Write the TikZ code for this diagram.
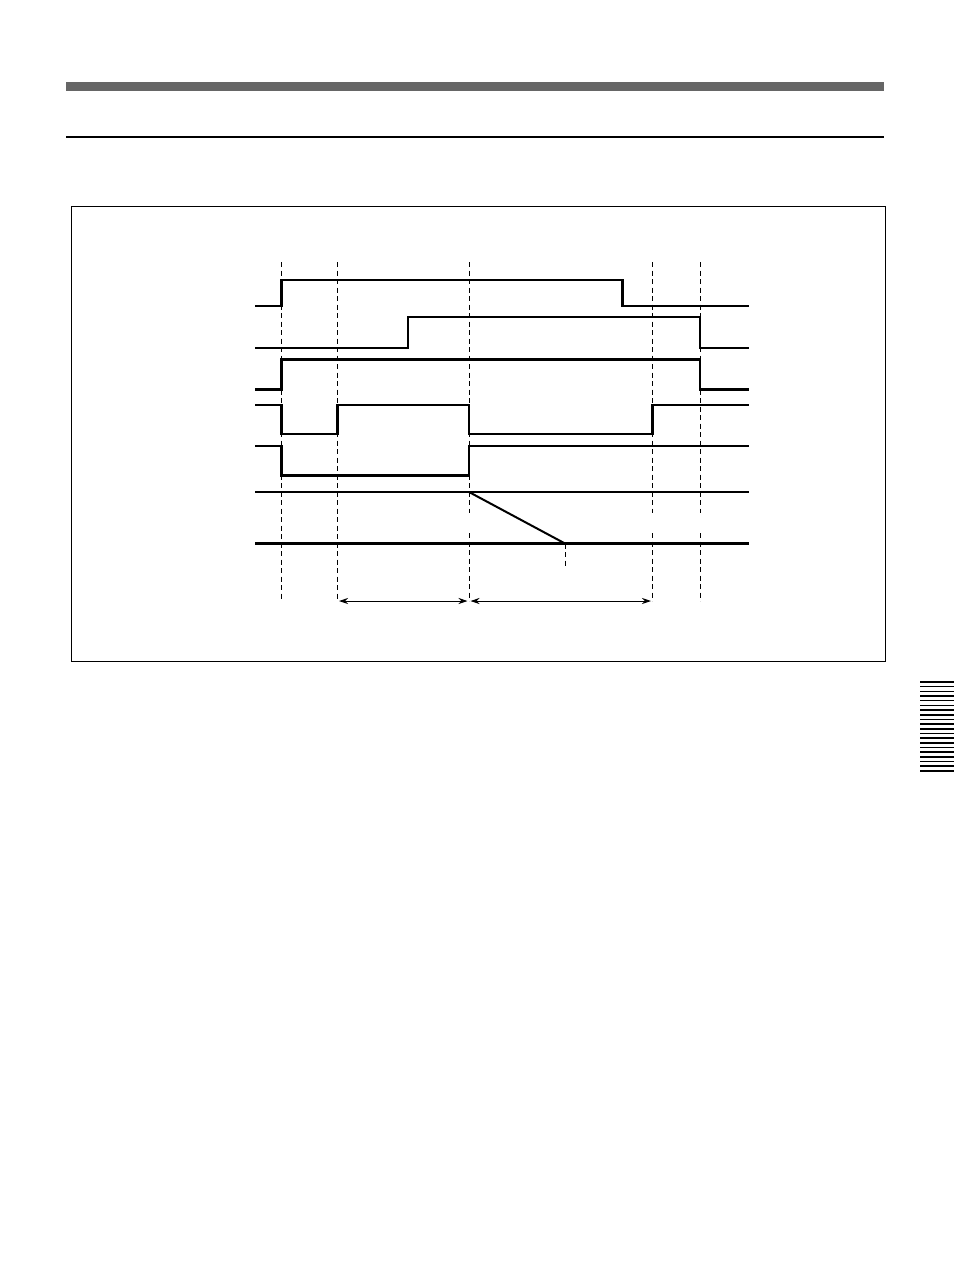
\documentclass[tikz,border=0pt]{standalone}
\usepackage{tikz}
\usetikzlibrary{positioning}
\usetikzlibrary{arrows.meta}
\tikzset{%
  every signal/.style={
    line width=2.2pt,
    line join=miter
  },
  time mark/.style={
    line width=0.9pt,
    dash pattern=on 5pt off 3.5pt
  },
  span arrow/.style={
    line width=0.9pt,
    {Stealth[length=9pt,width=6pt]}-{Stealth[length=9pt,width=6pt]},
    shorten <=1.5pt,
    shorten >=1.5pt
  },
}

\begin{document}
\begin{tikzpicture}[x=1pt, y=-1pt, > = stealth]
\useasboundingbox (0,0) rectangle (954,1274);
% page head
\fill[black!60] (66,82) rectangle (884,91);
\draw[line width=1.3pt] (66,137) -- (884,137);
\draw[line width=1pt] (71,206) rectangle (885,661);

% time marks
\foreach \n/\x in {a/281.5, b/337.5, c/469, d/652.5, e/700}
{
    \coordinate (top_\n) at (\x,262);
    \coordinate (cut_\n) at (\x,513);
    \coordinate (resume_\n) at (\x,533);
    \coordinate (bot_\n) at (\x,601);
}
\draw[time mark] (top_a) -- (bot_a);
\draw[time mark] (top_b) -- (bot_b);
\foreach \n in {c,d,e}
{
    \draw[time mark] (top_\n) -- (cut_\n);
    \draw[time mark] (resume_\n) -- (bot_\n);
}

% signals
\draw[every signal] (255,306) -- (281.5,306) |- (622.5,280) |- (748.5,306);
\draw[every signal] (255,348) -- (408.3,348) |- (700,317) |- (748.5,348);
\draw[every signal] (255,389.5) -- (281.5,389.5) |- (700,359.5) |- (748.5,389.5);
\draw[every signal] (255,405) -- (281.5,405) |- (337.5,434) |- (469,405) |- (652.5,434) |- (748.5,405);
\draw[every signal] (255,446) -- (281.5,446) |- (469,475.5) |- (748.5,446);
\draw[every signal] (255,492) -- (748.5,492);
\draw[every signal] (255,543.5) -- (748.5,543.5);

% ramp
\coordinate (ramp_start) at (469,492);
\coordinate (ramp_end) at (565,543.5);
\coordinate (ramp_tick) at (565,567);
\draw[line width=2pt] (ramp_start) -- (ramp_end);
\draw[time mark] (ramp_end) -- (ramp_tick);

% spans
\draw[span arrow] (bot_b) -- (bot_c);
\draw[span arrow] (bot_c) -- (bot_d);

% side tab
\foreach \i in {0,...,19}
    \draw[line width=1.5pt] (920,682+4.68*\i) -- (954,682+4.68*\i);
\end{tikzpicture}
\end{document}
